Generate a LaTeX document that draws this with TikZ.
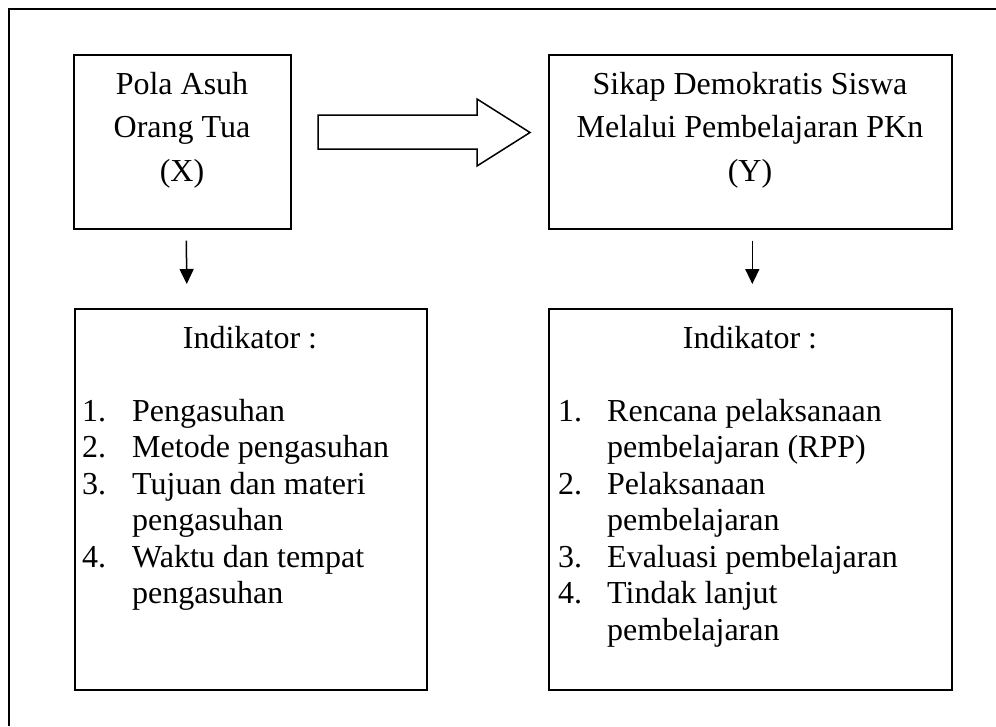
\documentclass[tikz,border=0pt]{standalone}
\usepackage{fontspec}
\setmainfont{Liberation Serif}
\usetikzlibrary{arrows.meta}
\begin{document}
\begin{tikzpicture}[x=1pt,y=-1pt,
  every node/.style={font=\fontsize{32}{38}\selectfont, inner sep=0pt},
  boxnode/.style={draw, line width=1.6pt, anchor=north west},
  ctext/.style={anchor=base},
  ltext/.style={anchor=base west},
  downarrow/.style={line width=1.5pt, -{Triangle[length=15pt,width=14pt]}},
  blockarrow/.style={draw, line width=1.5pt, line join=miter, fill=white},
  frameline/.style={line width=2pt}]
\useasboundingbox (0,0) rectangle (996,726);
\fill[white] (0,0) rectangle (996,726);
% outer frame
\draw[frameline] (9,726) -- (9,9) -- (996,9);
% top boxes
\node[boxnode, minimum width=217pt, minimum height=174pt] (bx) at (73,54) {};
\node[boxnode, minimum width=403pt, minimum height=174pt] (by) at (548,54) {};
% indicator boxes
\node[boxnode, minimum width=352pt, minimum height=381pt] (ix) at (74,308) {};
\node[boxnode, minimum width=403pt, minimum height=381pt] (iy) at (548,308) {};
% top box texts
\node[ctext] (x1) at (182,94) {Pola Asuh};
\node[ctext] (x2) at (182,137.5) {Orang Tua};
\node[ctext] (x3) at (182,181) {(X)};
\node[ctext] (y1) at (750,94) {Sikap Demokratis Siswa};
\node[ctext] (y2) at (750,137.5) {Melalui Pembelajaran PKn};
\node[ctext] (y3) at (750,181) {(Y)};
% block arrow
\draw[blockarrow] (318,115) -- (477,115) -- (477,99) -- (530,132.5) -- (477,166) -- (477,149) -- (318,149) -- cycle;
% down arrows
\draw[downarrow] ([xshift=4pt,yshift=-11pt]bx.south) -- ([xshift=-64pt,yshift=24pt]ix.north);
\draw[downarrow] ([xshift=2pt,yshift=-11pt]by.south) -- ([xshift=2pt,yshift=24pt]iy.north);
% left indicator
\node[ctext] (ixh) at (250,348) {Indikator :};
\node[ltext] (ixn1) at (82,421) {1.};
\node[ltext] (ixt1) at (132,421) {Pengasuhan};
\node[ltext] (ixn2) at (82,457.5) {2.};
\node[ltext] (ixt2) at (132,457.5) {Metode pengasuhan};
\node[ltext] (ixn3) at (82,494) {3.};
\node[ltext] (ixt3) at (132,494) {Tujuan dan materi};
\node[ltext] (ixt3b) at (132,530.5) {pengasuhan};
\node[ltext] (ixn4) at (82,567) {4.};
\node[ltext] (ixt4) at (132,567) {Waktu dan tempat};
\node[ltext] (ixt4b) at (132,603.5) {pengasuhan};
% right indicator
\node[ctext] (iyh) at (750,348) {Indikator :};
\node[ltext] (iyn1) at (558,421) {1.};
\node[ltext] (iyt1) at (607,421) {Rencana pelaksanaan};
\node[ltext] (iyt1b) at (607,457.5) {pembelajaran (RPP)};
\node[ltext] (iyn2) at (558,494) {2.};
\node[ltext] (iyt2) at (607,494) {Pelaksanaan};
\node[ltext] (iyt2b) at (607,530.5) {pembelajaran};
\node[ltext] (iyn3) at (558,567) {3.};
\node[ltext] (iyt3) at (607,567) {Evaluasi pembelajaran};
\node[ltext] (iyn4) at (558,603.5) {4.};
\node[ltext] (iyt4) at (607,603.5) {Tindak lanjut};
\node[ltext] (iyt4b) at (607,640) {pembelajaran};
\end{tikzpicture}
\end{document}
